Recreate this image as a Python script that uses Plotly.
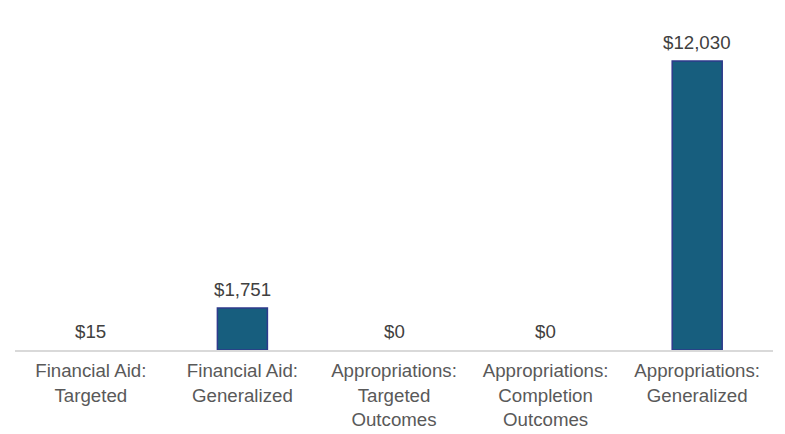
import plotly.graph_objects as go

# chart data
categories = [
    'Financial Aid:<br>Targeted',
    'Financial Aid:<br>Generalized',
    'Appropriations:<br>Targeted<br>Outcomes',
    'Appropriations:<br>Completion<br>Outcomes',
    'Appropriations:<br>Generalized',
]
values = [15, 1751, 0, 0, 12030]
value_labels = ['$15', '$1,751', '$0', '$0', '$12,030']

# bars too small to be seen get no outline / fill
outline = [1.5 if v > 100 else 0 for v in values]
bar_opacity = [1 if v > 100 else 0 for v in values]

fig = go.Figure()
fig.add_trace(go.Bar(
    x=categories,
    y=values,
    marker=dict(color='#175e7e', opacity=bar_opacity,
                line=dict(color='#2e3a8c', width=outline)),
    width=0.33,
))

for cat, v, lab in zip(categories, values, value_labels):
    fig.add_annotation(
        x=cat, y=v, text=lab, showarrow=False,
        yanchor='bottom', yshift=6,
        font=dict(size=18.7, color='#404040'),
    )

fig.update_layout(
    width=785,
    height=434,
    margin=dict(l=7, r=20, t=2, b=92),
    paper_bgcolor='white',
    plot_bgcolor='white',
    font=dict(family='Liberation Sans, Arial, sans-serif', size=18.7, color='#595959'),
    showlegend=False,
    xaxis=dict(
        showline=True,
        linecolor='#d9d9d9',
        linewidth=2,
        ticks='',
        tickangle=0,
        automargin=False,
        ticklabelstandoff=3,
        tickfont=dict(size=18.7, color='#595959'),
    ),
    yaxis=dict(
        range=[0, 14150],
        visible=False,
        showgrid=False,
        zeroline=False,
    ),
)

fig.write_html("out.html")
